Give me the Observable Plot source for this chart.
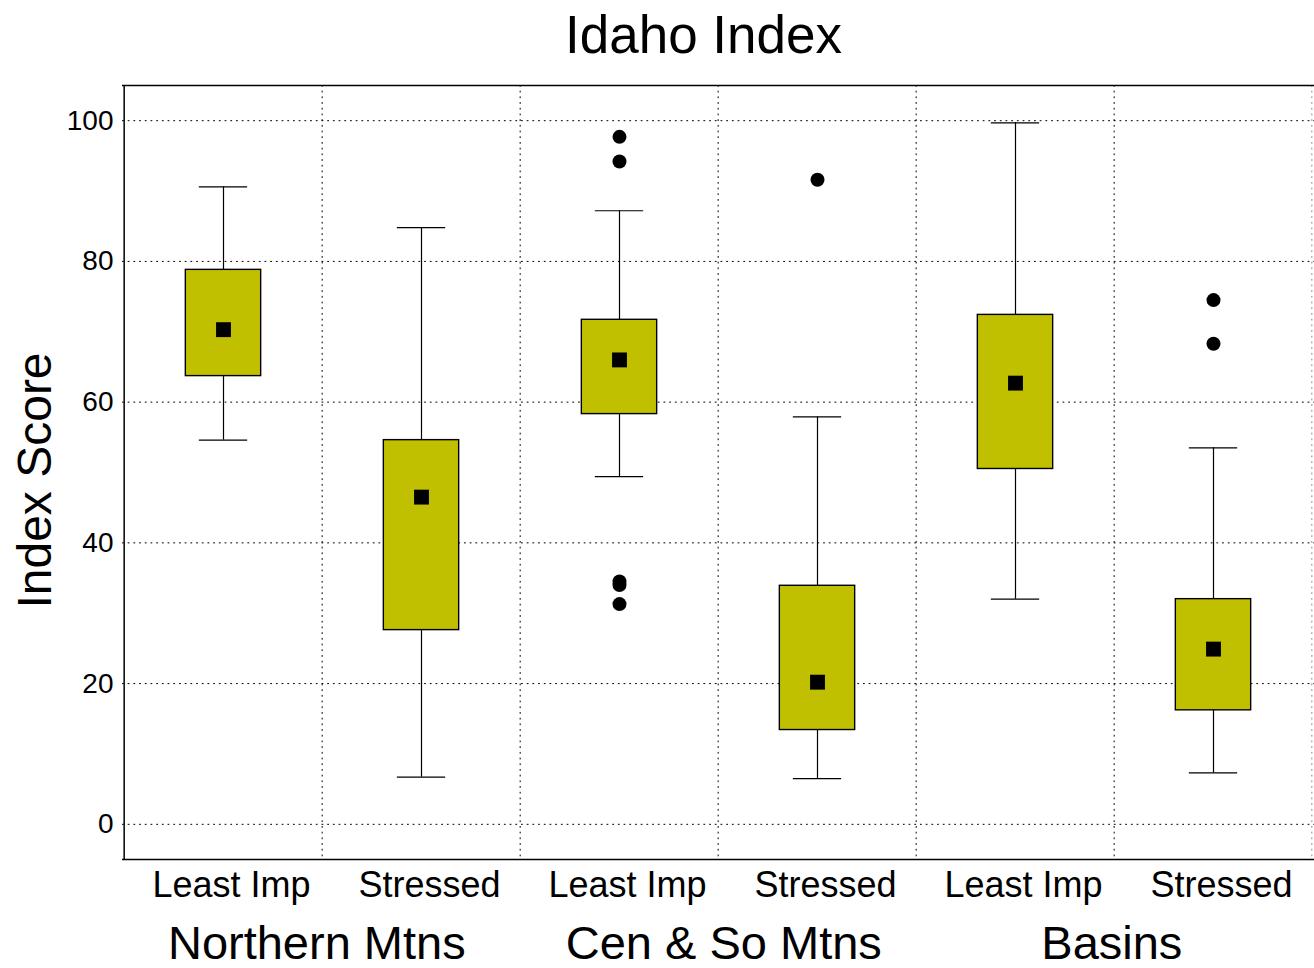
<!DOCTYPE html>
<html>
<head>
<meta charset="utf-8">
<script src="https://cdn.jsdelivr.net/npm/d3@7"></script>
<script src="https://cdn.jsdelivr.net/npm/@observablehq/plot@0.6"></script>
<style>
  html, body { margin: 0; padding: 0; background: #fff; }
  svg { display: block; }
</style>
</head>
<body>
<div id="chart"></div>
<script>
// ---- data ----
const groups = ["Northern Mtns", "Cen & So Mtns", "Basins"];
const conditions = ["Least Imp", "Stressed"];
const boxGroup = ["Northern Mtns", "Northern Mtns", "Cen & So Mtns", "Cen & So Mtns", "Basins", "Basins"];
const boxCondition = ["Least Imp", "Stressed", "Least Imp", "Stressed", "Least Imp", "Stressed"];
const whiskerLow  = [54.6,  6.7, 49.4,  6.5, 32.0,  7.3];
const q1          = [63.7, 27.6, 58.3, 13.4, 50.5, 16.2];
const meanValue   = [70.3, 46.5, 66.0, 20.2, 62.7, 24.9];
const q3          = [78.8, 54.6, 71.7, 33.9, 72.4, 32.0];
const whiskerHigh = [90.6, 84.8, 87.2, 57.9, 99.7, 53.5];
const outlierBox   = [2, 2, 2, 2, 2, 3, 5, 5];
const outlierValue = [97.7, 94.2, 34.5, 34.0, 31.3, 91.6, 74.5, 68.3];
const yTicks = [0, 20, 40, 60, 80, 100];

// ---- build ----
const keys = boxGroup.map((g, i) => g + "|" + boxCondition[i]);
const idx = keys.map((_, i) => i);
const oidx = outlierValue.map((_, i) => i);

const W = 1314, H = 968, ML = 122, MR = 0, MT = 85, MB = 109;
const bw = (W - ML - MR) / keys.length;
const font = "Liberation Sans, Arial, Helvetica, sans-serif";
const dots = "1.8,3.9";
const boxInset = (bw - 76) / 2;
const capInset = (bw - 49) / 2;
const groupDx = [-6, 5, -3];

const chart = Plot.plot({
  width: W, height: H,
  marginLeft: ML, marginRight: MR, marginTop: MT, marginBottom: MB,
  style: {fontFamily: font, background: "white", color: "black"},
  x: {type: "band", domain: keys, padding: 0, axis: null},
  y: {domain: [-5, 105], ticks: yTicks, tickSize: 0, tickPadding: 9, label: null},
  marks: [
    Plot.axisY(yTicks, {tickSize: 0, tickPadding: 9, fontSize: 28, label: null}),
    // grid
    Plot.ruleY(yTicks, {stroke: "black", strokeWidth: 1, strokeDasharray: dots}),
    Plot.ruleX(keys.slice(1), {x: d => d, dx: -bw / 2, stroke: "black", strokeDasharray: dots}),
    Plot.ruleX([keys[keys.length - 1]], {x: d => d, dx: bw / 2 - 1, stroke: "#888", strokeDasharray: dots}),
    // frame
    Plot.ruleY([-5, 105], {stroke: "black", strokeWidth: 1.5}),
    Plot.ruleX([keys[0]], {x: d => d, dx: -bw / 2, stroke: "black", strokeWidth: 1.5}),
    // whiskers
    Plot.ruleX(idx, {x: i => keys[i], y1: i => whiskerLow[i], y2: i => whiskerHigh[i], stroke: "black", strokeWidth: 1.2}),
    Plot.tickY(idx, {x: i => keys[i], y: i => whiskerLow[i], stroke: "black", strokeWidth: 1.2, insetLeft: capInset, insetRight: capInset}),
    Plot.tickY(idx, {x: i => keys[i], y: i => whiskerHigh[i], stroke: "black", strokeWidth: 1.2, insetLeft: capInset, insetRight: capInset}),
    // boxes
    Plot.rectY(idx, {x: i => keys[i], y1: i => q1[i], y2: i => q3[i], fill: "#c0c000", stroke: "black", strokeWidth: 1.4, insetLeft: boxInset, insetRight: boxInset}),
    // means
    Plot.dot(idx, {x: i => keys[i], y: i => meanValue[i], symbol: "square", r: 8.4, fill: "black", stroke: "none"}),
    // outliers
    Plot.dot(oidx, {x: i => keys[outlierBox[i]], y: i => outlierValue[i], r: 7, fill: "black", stroke: "none"}),
    // x tick labels
    Plot.text(idx, {x: i => keys[i], text: i => boxCondition[i], frameAnchor: "bottom", lineAnchor: "bottom", dy: 37, dx: 8, fontSize: 36}),
    // group labels
    ...groups.map((g, j) => Plot.text([g], {x: d => keys[boxGroup.indexOf(d)], text: d => d, frameAnchor: "bottom", lineAnchor: "bottom", dx: bw / 2 + groupDx[j], dy: 99, fontSize: 47})),
    // y title
    Plot.text(["Index Score"], {text: d => d, frameAnchor: "left", textAnchor: "middle", rotate: -90, dx: -87, dy: 8, fontSize: 48, lineAnchor: "middle"}),
    // title
    Plot.text(["Idaho Index"], {text: d => d, frameAnchor: "top", lineAnchor: "bottom", dy: -33, dx: -15, fontSize: 53})
  ]
});
document.getElementById("chart").appendChild(chart);
</script>
</body>
</html>
